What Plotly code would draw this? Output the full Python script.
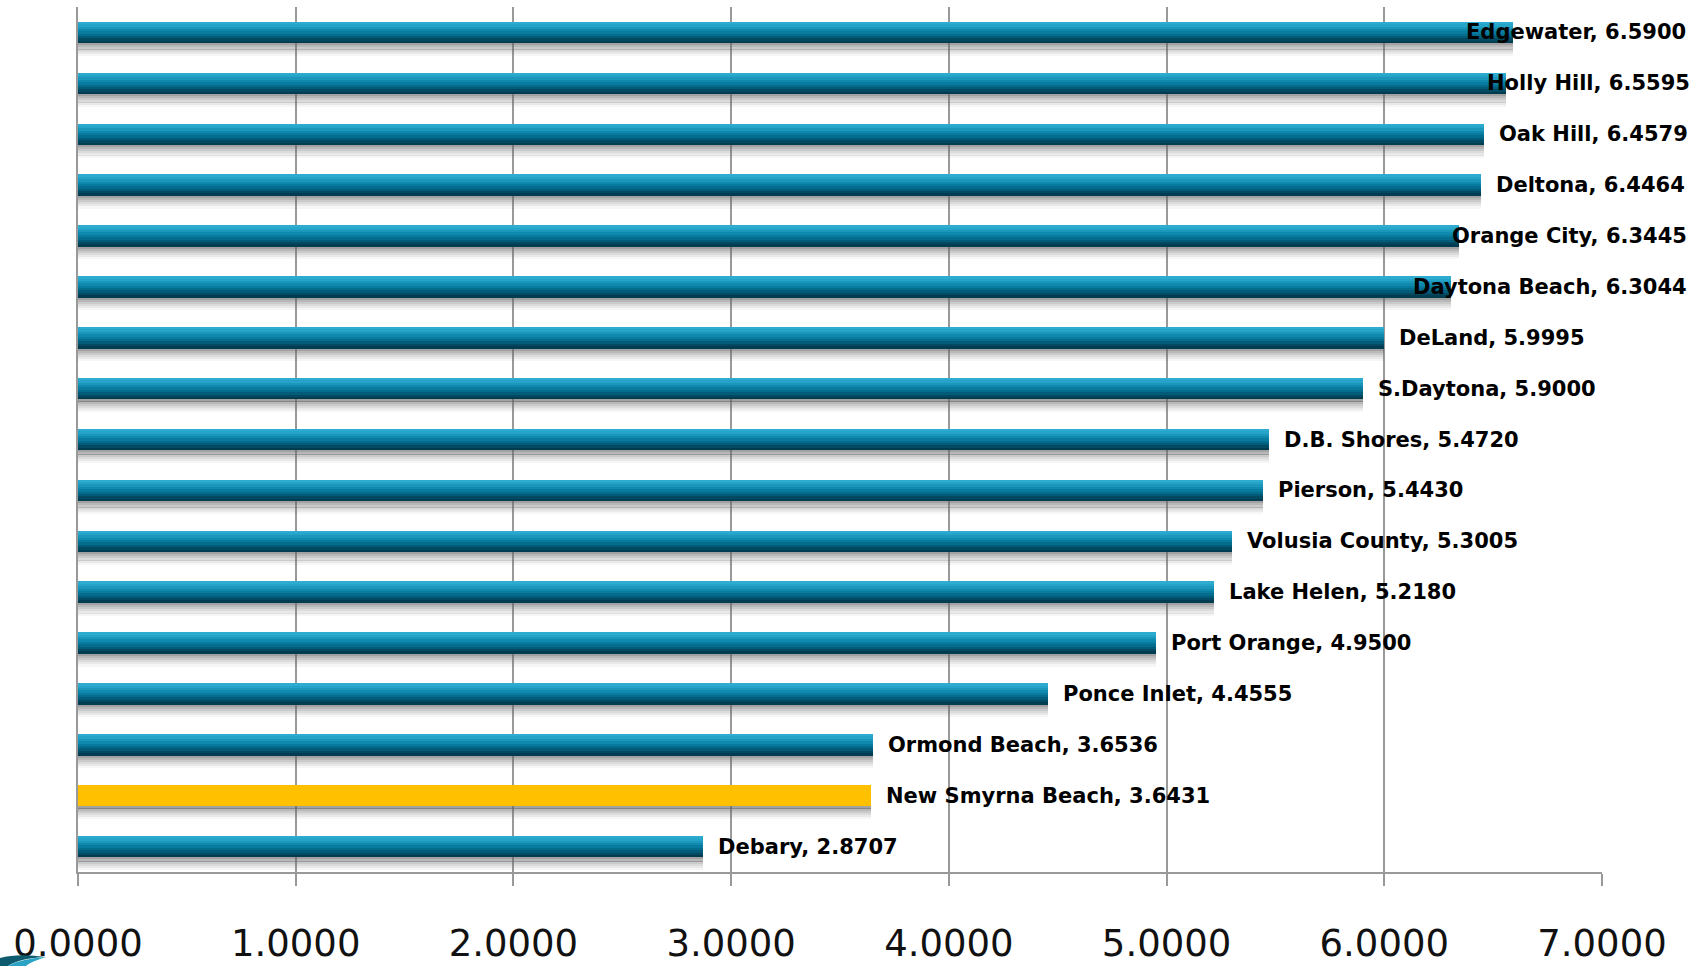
import plotly.graph_objects as go

# ---------------- data ----------------
cities = ["Edgewater", "Holly Hill", "Oak Hill", "Deltona", "Orange City",
          "Daytona Beach", "DeLand", "S.Daytona", "D.B. Shores", "Pierson",
          "Volusia County", "Lake Helen", "Port Orange", "Ponce Inlet",
          "Ormond Beach", "New Smyrna Beach", "Debary"]
rates = [6.5900, 6.5595, 6.4579, 6.4464, 6.3445, 6.3044, 5.9995, 5.9000,
         5.4720, 5.4430, 5.3005, 5.2180, 4.9500, 4.4555, 3.6536, 3.6431, 2.8707]
highlight = "New Smyrna Beach"
x_ticks = [0, 1, 2, 3, 4, 5, 6, 7]

# ---------------- layout constants ----------------
W, H = 1702, 966
ML, MR, MT, MB = 78, 100, 7, 94
plot_w = W - ML - MR
plot_h = H - MT - MB
px_per_unit = plot_w / 7.0

bar_w = 0.42
grad = ["#2EACD0", "#25A3C8", "#1B97BC", "#1089AE", "#087B9F", "#046C8D",
        "#025B78", "#014A62", "#013C50"]
n = len(grad)
yellow = "#FFC000"

fig = go.Figure()

# shadows below bars
shadow_steps = [0.6, 0.46, 0.34, 0.23, 0.14, 0.06]
sh_h = 0.25 / len(shadow_steps)
for k, a in enumerate(shadow_steps):
    fig.add_trace(go.Bar(
        y=cities, x=rates, orientation="h",
        width=sh_h + 0.002, offset=bar_w / 2 + k * sh_h,
        marker=dict(color=f"rgba(100,100,100,{a})", line=dict(width=0)),
        hoverinfo="skip", showlegend=False))

# gradient bars built from horizontal strips
for k, c in enumerate(grad):
    colors = [yellow if name == highlight else c for name in cities]
    fig.add_trace(go.Bar(
        y=cities, x=rates, orientation="h",
        width=bar_w / n + 0.002, offset=-bar_w / 2 + k * bar_w / n,
        marker=dict(color=colors, line=dict(width=0)),
        hoverinfo="skip", showlegend=False))

# approximate DejaVu Sans Bold advance widths (em)
cw = {' ': .348, ',': .380, '.': .380, 'A': .774, 'B': .762, 'C': .734, 'D': .830,
      'E': .683, 'H': .837, 'I': .372, 'L': .637, 'N': .837, 'O': .850, 'P': .733,
      'S': .720, 'V': .774, 'a': .675, 'b': .716, 'c': .593, 'd': .716, 'e': .678,
      'g': .716, 'h': .712, 'i': .343, 'k': .665, 'l': .343, 'm': 1.042, 'n': .712,
      'o': .687, 'p': .716, 'r': .493, 's': .595, 't': .478, 'u': .712, 'w': .925,
      'y': .652, 'z': .582}
fs = 21
limit_px = 1695 - ML  # right edge for labels relative to plot left

for name, v in zip(cities, rates):
    txt = f"{name}, {v:.4f}"
    width = sum(cw.get(ch, .696) for ch in txt) * fs * 1.035
    start = v * px_per_unit + 13
    if start + width > limit_px:
        start = limit_px - width
    fig.add_annotation(
        x=start / px_per_unit, y=name, xref="x", yref="y",
        text=txt, showarrow=False, xanchor="left", yanchor="middle",
        font=dict(family="DejaVu Sans", size=fs, color="#000000", weight="bold"))

# decorative swoosh bottom-left
def px(xp, yp):
    return f"{(xp - ML) / plot_w} {(H - MB - yp) / plot_h}"

fig.add_shape(type="path", xref="paper", yref="paper", layer="above",
              path=f"M {px(0, 966)} L {px(0, 958)} "
                   f"Q {px(18, 953)} {px(46, 957)} "
                   f"Q {px(20, 958)} {px(8, 966)} Z",
              fillcolor="#0E5A6E", line=dict(width=0))
fig.add_shape(type="path", xref="paper", yref="paper", layer="above",
              path=f"M {px(8, 966)} Q {px(20, 959)} {px(46, 957)} "
                   f"Q {px(30, 962)} {px(26, 966)} Z",
              fillcolor="#2AA3C4", line=dict(width=0))

fig.update_layout(
    width=W, height=H,
    margin=dict(l=ML, r=MR, t=MT, b=MB, pad=0, autoexpand=False),
    plot_bgcolor="white", paper_bgcolor="white",
    barmode="overlay", bargap=0,
    showlegend=False,
    xaxis=dict(range=[0, 7], tickvals=x_ticks, automargin=False,
               ticktext=[f"{t:.4f}" for t in x_ticks],
               showgrid=True, gridcolor="#999999", gridwidth=2,
               zeroline=False, showline=True, linecolor="#999999", linewidth=2,
               ticks="outside", ticklen=12, tickwidth=2, tickcolor="#999999",
               ticklabelstandoff=26,
               tickfont=dict(family="DejaVu Sans", size=37, color="#111111")),
    yaxis=dict(categoryorder="array", categoryarray=cities, autorange="reversed",
               automargin=False,
               showticklabels=False, showgrid=False, zeroline=False,
               showline=True, linecolor="#999999", linewidth=2, ticks=""),
)

fig.write_html("out.html", config={"displayModeBar": False},
               post_script="document.body.style.margin='0';document.body.style.padding='0';")
